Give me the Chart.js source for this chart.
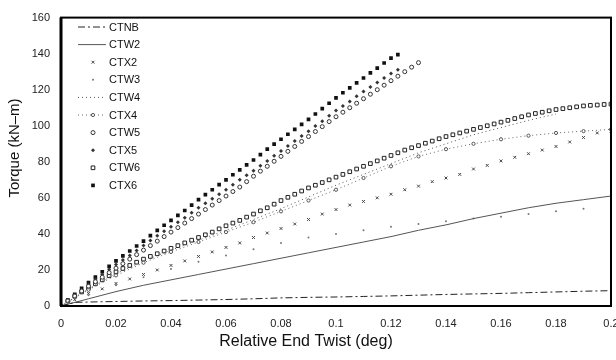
<!DOCTYPE html>
<html>
<head>
<meta charset="utf-8">
<script src="https://cdn.jsdelivr.net/npm/chart.js@4.4.0/dist/chart.umd.min.js"></script>
<style>
  html, body { margin: 0; padding: 0; background: #fff; }
</style>
</head>
<body>
<canvas id="myChart" width="616" height="360"></canvas>
<script>
/* Data */
const twist25 = [0, 0.0025, 0.005, 0.0075, 0.01, 0.0125, 0.015, 0.0175, 0.02, 0.0225, 0.025, 0.0275, 0.03, 0.0325, 0.035, 0.0375,
  0.04, 0.0425, 0.045, 0.0475, 0.05, 0.0525, 0.055, 0.0575, 0.06, 0.0625, 0.065, 0.0675, 0.07, 0.0725, 0.075, 0.0775,
  0.08, 0.0825, 0.085, 0.0875, 0.09, 0.0925, 0.095, 0.0975, 0.1, 0.1025, 0.105, 0.1075, 0.11, 0.1125, 0.115, 0.1175,
  0.12, 0.1225, 0.125, 0.1275, 0.13, 0.1325, 0.135, 0.1375, 0.14, 0.1425, 0.145, 0.1475, 0.15, 0.1525, 0.155, 0.1575,
  0.16, 0.1625, 0.165, 0.1675, 0.17, 0.1725, 0.175, 0.1775, 0.18, 0.1825, 0.185, 0.1875, 0.19, 0.1925, 0.195, 0.1975, 0.2];
const twist5 = [0, 0.005, 0.01, 0.015, 0.02, 0.025, 0.03, 0.035, 0.04, 0.045, 0.05, 0.055, 0.06, 0.065, 0.07, 0.075, 0.08, 0.085, 0.09, 0.095, 0.1,
  0.105, 0.11, 0.115, 0.12, 0.125, 0.13, 0.135, 0.14, 0.145, 0.15, 0.155, 0.16, 0.165, 0.17, 0.175, 0.18, 0.185, 0.19, 0.195, 0.2];
const twist10 = [0, 0.01, 0.02, 0.03, 0.04, 0.05, 0.06, 0.07, 0.08, 0.09, 0.1, 0.11, 0.12, 0.13, 0.14, 0.15, 0.16, 0.17, 0.18, 0.19, 0.2];
const twistW4 = [0, 0.01, 0.02, 0.03, 0.04, 0.05, 0.06, 0.07, 0.08, 0.09, 0.1, 0.11, 0.12, 0.13, 0.14, 0.15, 0.16, 0.17, 0.18];
const twistNB = [0, 0.005, 0.01, 0.02, 0.03, 0.04, 0.05, 0.06, 0.07, 0.08, 0.09, 0.1, 0.11, 0.12, 0.13, 0.14, 0.15, 0.16, 0.17, 0.18, 0.19, 0.2];

const ctnbTorque = [0, 2, 2.2, 2.5, 2.8, 3, 3.3, 3.6, 4, 4.5, 4.8, 5, 5.3, 5.6, 6, 6.4, 6.7, 7, 7.4, 7.8, 8.2, 8.5];
const ctw2Torque = [0, 4, 8, 11.5, 14.5, 17.5, 20.5, 23.5, 26.5, 29.5, 32.5, 35.5, 38.5, 42, 45, 48.5, 51.5, 54.5, 57, 59, 61];
const ctx2Torque = [0, 3.5, 7, 9.5, 12.5, 15, 17.5, 20, 22.5, 25, 27.5, 30, 32.5, 35, 38, 40.5, 43, 45.5, 48, 51, 53.5,
  56, 58, 60, 62, 64.5, 66.5, 69, 71, 73, 76, 78, 80.5, 82.5, 84.5, 86.5, 88.5, 91, 93.5, 96, 97];
const ctw3Torque = [0, 6, 11.5, 16, 20.5, 24.5, 28, 31.5, 35, 38, 40, 42, 44, 45.5, 47, 48.5, 49.5, 51, 52.5, 54, 55];
const ctw4Torque = [0, 9.5, 18, 25, 31, 36.5, 42, 48, 54, 60.5, 67, 73, 79, 85, 90, 95, 99, 103, 106.5];
const ctx4Torque = [0, 9, 17, 24, 30, 35.5, 41, 46.5, 52.5, 58.5, 64.5, 71, 77.5, 83, 87, 90, 92.5, 94.5, 96, 97, 98];
const ctw5Torque = [0, 2.8, 5.5, 8.3, 11, 13.5, 16, 18.5, 21, 23.5, 26, 28.5, 31, 33.5, 36, 38.5,
  41, 43.5, 46, 48.5, 51, 53.5, 56, 58.5, 61, 63.5, 66, 69, 72, 74.8, 77.5, 80.3,
  83, 85.8, 88.5, 91.3, 94, 96.8, 99.5, 102.3, 105, 107.5, 110, 112.5, 115, 117.5, 120, 122.5,
  125, 127.5, 130, 132.5, 135];
const ctx5Torque = [0, 3, 6, 9, 12, 14.8, 17.5, 20.3, 23, 25.5, 28, 30.8, 33.5, 36.3, 39, 41.5,
  44, 46.5, 49, 51.8, 54.5, 57, 59.5, 62, 64.5, 67.3, 70, 72.5, 75, 77.8, 80.5, 83.3,
  86, 88.8, 91.5, 94.3, 97, 99.8, 102.5, 105.5, 108.5, 111, 113.5, 116.3, 119, 121.5, 124, 126.5,
  129, 131];
const ctw6Torque = [0, 2.8, 5.5, 7.8, 10, 12.3, 14.5, 16.8, 19, 20.8, 22.5, 24.3, 26, 27.5, 29, 30.5,
  32, 33.5, 35, 36.5, 38, 39.5, 41, 42.8, 44.5, 46, 47.5, 49.3, 51, 52.8, 54.5, 56.5,
  58.5, 60.3, 62, 63.8, 65.5, 67, 68.5, 70, 71.5, 73, 74.5, 76, 77.5, 79, 80.5, 82,
  83.5, 85, 86.5, 87.8, 89, 90.3, 91.5, 92.8, 94, 95, 96, 97, 98, 99, 100, 101,
  102, 103, 104, 105, 106, 106.8, 107.5, 108.3, 109, 109.5, 110, 110.5, 111, 111.3, 111.5, 111.8, 112];
const ctx6Torque = [0, 3.3, 6.5, 9.8, 13, 16, 19, 22, 25, 27.8, 30.5, 33.3, 36, 39, 42, 44.8,
  47.5, 50.3, 53, 56, 59, 61.8, 64.5, 67.3, 70, 72.8, 75.5, 78.3, 81, 84, 87, 89.8,
  92.5, 95.3, 98, 100.8, 103.5, 106.5, 109.5, 112.5, 115.5, 118.3, 121, 123.8, 126.5, 129.3, 132, 134.8,
  137.5, 139.5];

const xTicks = [0, 0.02, 0.04, 0.06, 0.08, 0.1, 0.12, 0.14, 0.16, 0.18, 0.2];
const yTicks = [0, 20, 40, 60, 80, 100, 120, 140, 160];

const FONT = '"Liberation Sans", Arial, Helvetica, sans-serif';

function pts(xs, ys) {
  return ys.map(function (y, i) { return { x: xs[i], y: y }; });
}

/* Frame, legend and axis titles */
const frameAndLegend = {
  id: 'frameAndLegend',
  afterDatasetsDraw(chart) {
    const ctx = chart.ctx;
    const a = chart.chartArea;
    ctx.save();

    ctx.strokeStyle = '#000';
    ctx.lineWidth = 2;
    ctx.strokeRect(a.left, a.top, a.right - a.left, a.bottom - a.top);
    ctx.lineWidth = 3;
    ctx.beginPath();
    ctx.moveTo(a.left, a.top);
    ctx.lineTo(a.left, a.bottom);
    ctx.stroke();

    ctx.font = '11px ' + FONT;
    ctx.textBaseline = 'middle';
    ctx.textAlign = 'left';
    chart.data.datasets.forEach(function (ds, i) {
      const y = 27 + i * 17.6;
      if (ds.showLine) {
        ctx.beginPath();
        ctx.setLineDash(ds.borderDash || []);
        ctx.strokeStyle = ds.borderColor;
        ctx.lineWidth = ds.borderWidth;
        ctx.moveTo(78, y);
        ctx.lineTo(106, y);
        ctx.stroke();
        ctx.setLineDash([]);
      }
      if (ds.pointRadius > 0) {
        ctx.fillStyle = ds.pointBackgroundColor;
        ctx.strokeStyle = ds.pointBorderColor;
        ctx.lineWidth = ds.pointBorderWidth;
        Chart.helpers.drawPoint(ctx, {
          pointStyle: ds.pointStyle, radius: ds.pointRadius, borderWidth: ds.pointBorderWidth, rotation: 0
        }, 93, y);
      }
      ctx.fillStyle = '#111';
      ctx.fillText(ds.label, 109, y + 0.5);
    });

    ctx.fillStyle = '#111';
    ctx.textAlign = 'center';
    ctx.font = '16px ' + FONT;
    ctx.fillText('Relative End Twist (deg)', 306, 342);

    ctx.translate(15, 148);
    ctx.rotate(-Math.PI / 2);
    ctx.font = '15px ' + FONT;
    ctx.fillText('Torque (kN\u2013m)', 0, 0);
    ctx.restore();
  }
};

function lineSet(label, data, color, dash) {
  return {
    label: label, data: data, showLine: true, borderColor: color, borderWidth: 1,
    borderDash: dash, pointRadius: 0, pointHoverRadius: 0, tension: 0
  };
}

function markSet(label, data, style, radius, fill, stroke, width) {
  return {
    label: label, data: data, showLine: false, pointStyle: style, pointRadius: radius,
    pointBackgroundColor: fill, pointBorderColor: stroke, pointBorderWidth: width,
    borderColor: stroke, backgroundColor: fill
  };
}

const ctx4Set = lineSet('CTX4', pts(twist10, ctx4Torque), '#666', [1, 3]);
ctx4Set.pointRadius = 1.6;
ctx4Set.pointStyle = 'circle';
ctx4Set.pointBackgroundColor = '#fff';
ctx4Set.pointBorderColor = '#555';
ctx4Set.pointBorderWidth = 1;

const ctx = document.getElementById('myChart').getContext('2d');

// eslint-disable-next-line no-undef
const chart = new Chart(ctx, {
  type: 'scatter',
  data: {
    datasets: [
      lineSet('CTNB', pts(twistNB, ctnbTorque), '#222', [7, 3, 2, 3]),
      lineSet('CTW2', pts(twist10, ctw2Torque), '#555', []),
      markSet('CTX2', pts(twist5, ctx2Torque), 'crossRot', 2, '#444', '#444', 1),
      markSet('CTW3', pts(twist10, ctw3Torque), 'circle', 1, '#777', '#777', 0),
      lineSet('CTW4', pts(twistW4, ctw4Torque), '#555', [1, 3]),
      ctx4Set,
      markSet('CTW5', pts(twist25, ctw5Torque), 'circle', 2, '#fff', '#333', 1),
      markSet('CTX5', pts(twist25, ctx5Torque), 'rectRot', 2, '#333', '#333', 0),
      markSet('CTW6', pts(twist25, ctw6Torque), 'rect', 2.6, '#fff', '#222', 1),
      markSet('CTX6', pts(twist25, ctx6Torque), 'rect', 2.6, '#111', '#111', 0)
    ]
  },
  plugins: [frameAndLegend],
  options: {
    responsive: false,
    animation: false,
    events: [],
    layout: { padding: { top: 10, left: 0, right: 0, bottom: 0 } },
    plugins: { legend: { display: false }, tooltip: { enabled: false } },
    scales: {
      x: {
        type: 'linear', min: 0, max: 0.2,
        grid: { display: false, drawTicks: false },
        border: { display: false },
        afterBuildTicks: function (scale) { scale.ticks = xTicks.map(function (v) { return { value: v }; }); },
        afterFit: function (scale) { scale.height = 54; scale.paddingRight = 5; scale.paddingLeft = 0; },
        ticks: {
          padding: 11, color: '#222', maxRotation: 0, autoSkip: false,
          font: { size: 11, family: FONT },
          callback: function (v) { return String(Number(Number(v).toFixed(2))); }
        }
      },
      y: {
        type: 'linear', min: 0, max: 160,
        grid: { display: false, drawTicks: false },
        border: { display: false },
        afterBuildTicks: function (scale) { scale.ticks = yTicks.map(function (v) { return { value: v }; }); },
        afterFit: function (scale) { scale.width = 61; },
        ticks: {
          padding: 11, color: '#222',
          font: { size: 11, family: FONT }
        }
      }
    }
  }
});
</script>
</body>
</html>
